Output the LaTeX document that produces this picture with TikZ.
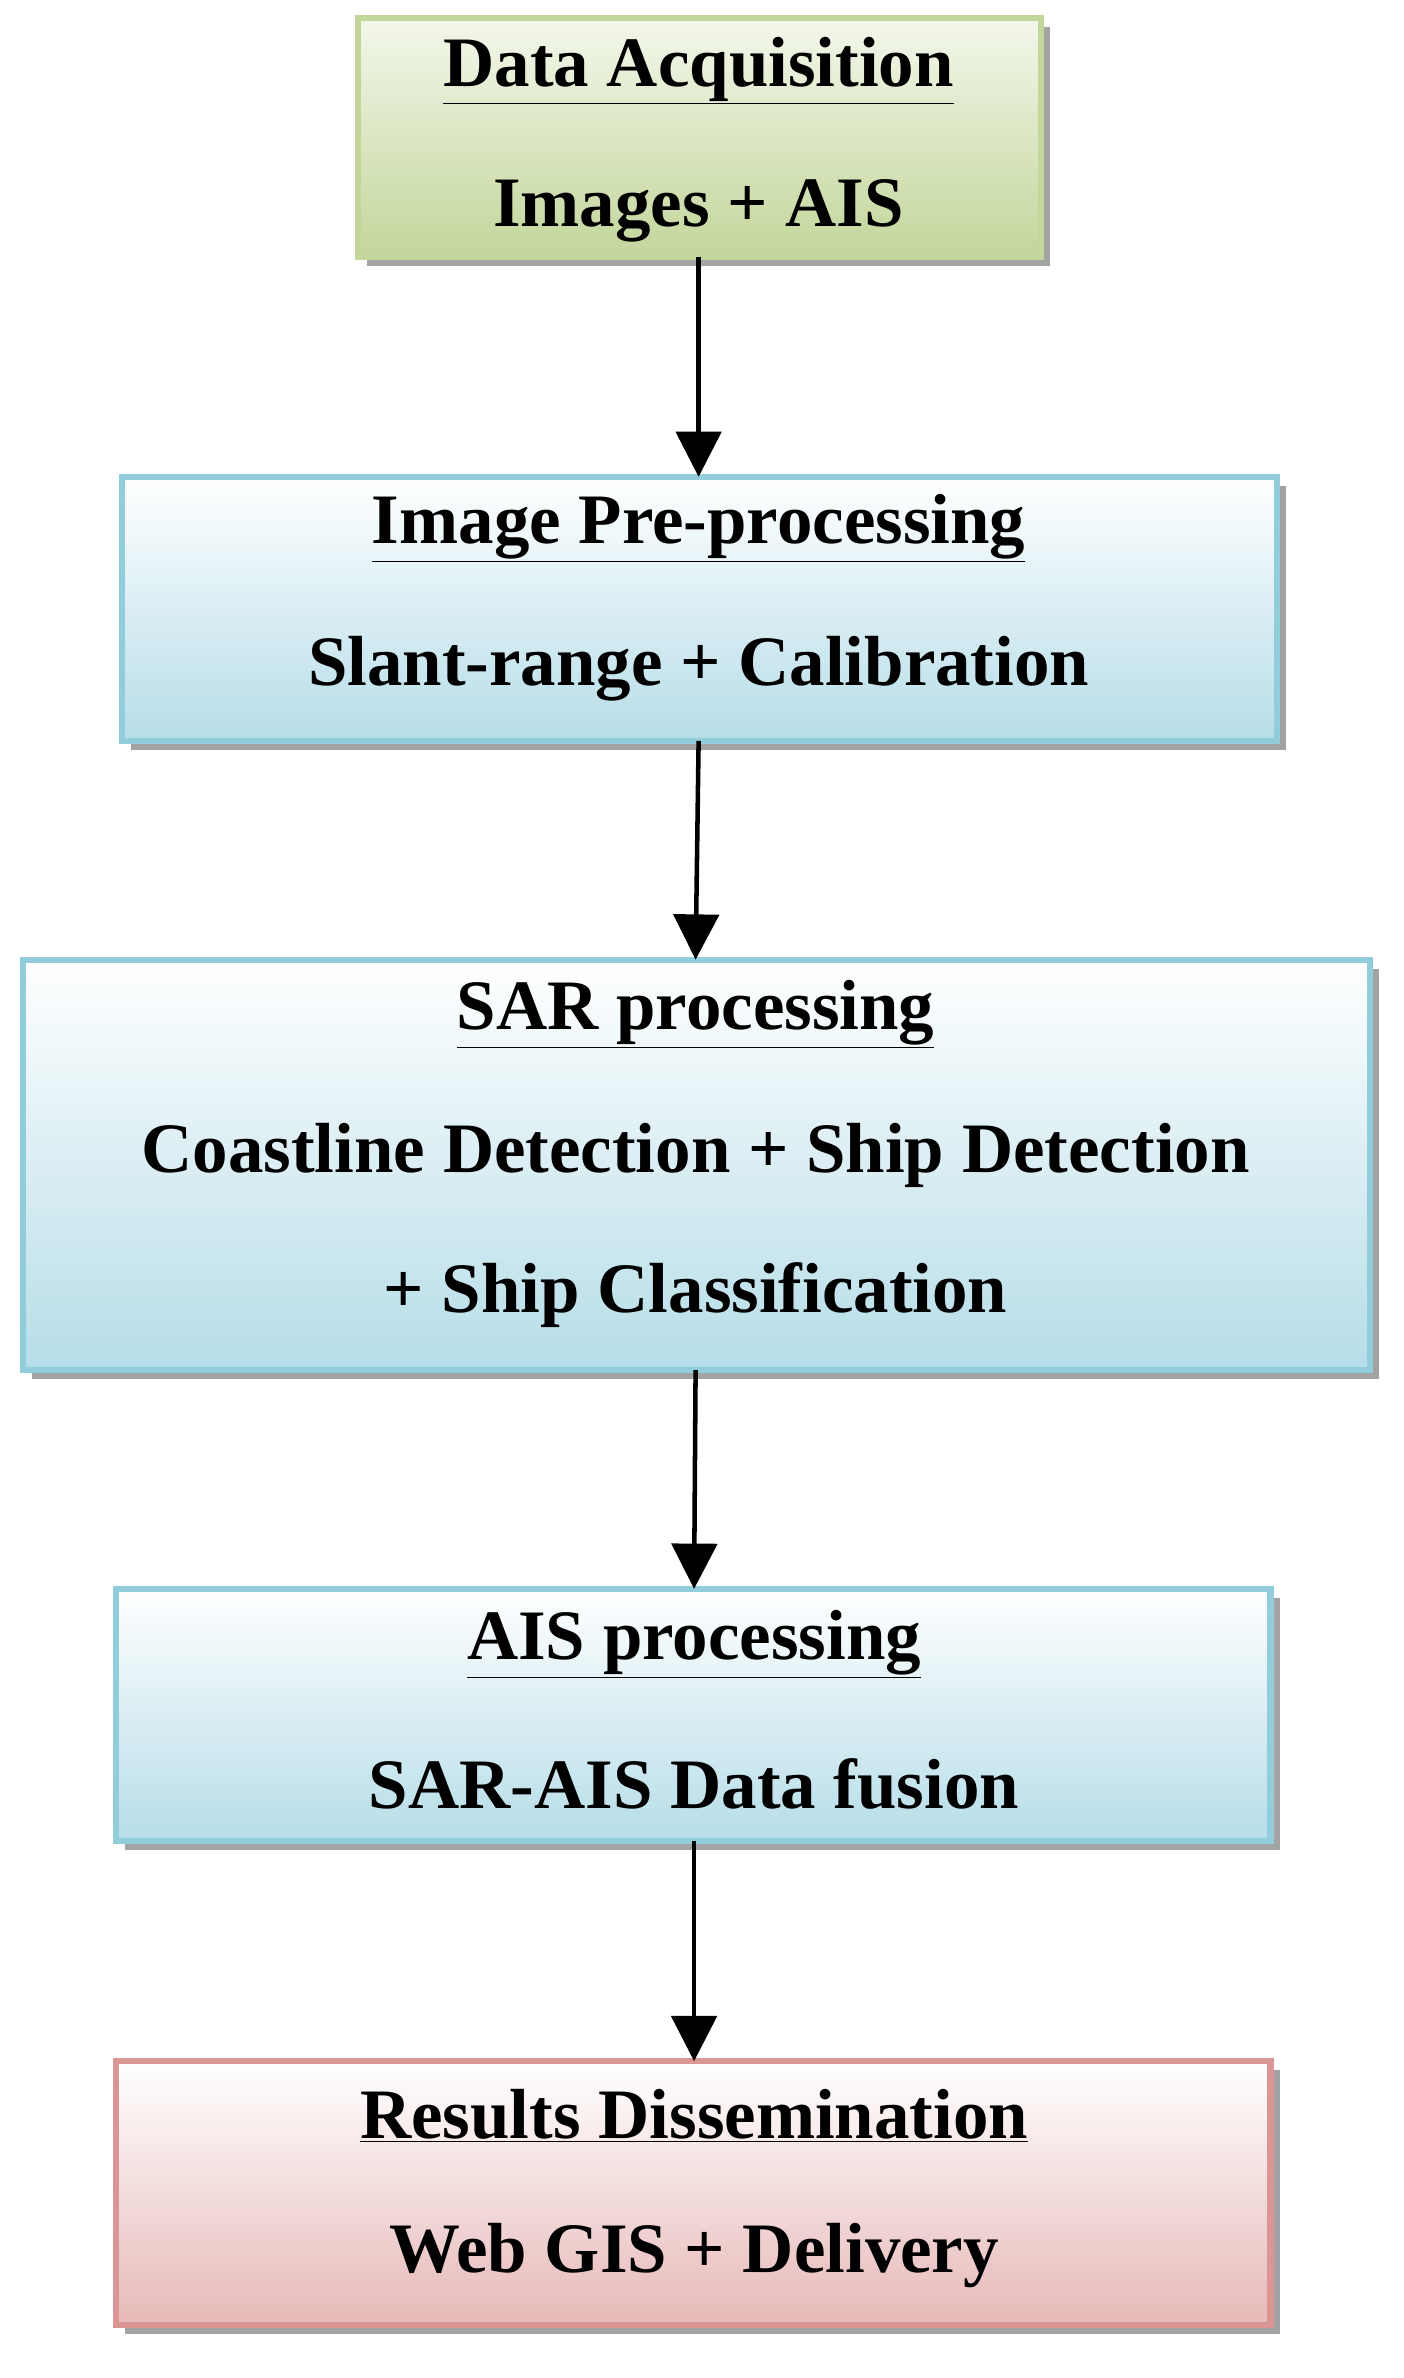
\documentclass[tikz,border=0pt]{standalone}
\usepackage{fontspec}
\setmainfont{Liberation Serif}
\usetikzlibrary{arrows.meta,shadows}
\definecolor{bluebd}{HTML}{92CDDC}
\definecolor{bluebt}{HTML}{B6DDE8}
\definecolor{greenbd}{HTML}{C3D69B}
\definecolor{greenbt}{HTML}{C3D69B}
\definecolor{redbd}{HTML}{D99694}
\definecolor{redbt}{HTML}{E6B9B8}
\newcommand{\ul}[1]{\underline{#1}}
\tikzset{
 box/.style={line width=4pt, drop shadow={shadow xshift=6pt,shadow yshift=-6pt,fill=black!45,opacity=0.8}},
 bluebox/.style={box, draw=bluebd, top color=white, bottom color=bluebt},
 greenbox/.style={box, draw=greenbd, top color=greenbt!20, bottom color=greenbt},
 redbox/.style={box, draw=redbd, top color=white, bottom color=redbt},
 txt/.style={font=\fontsize{47}{56}\selectfont\bfseries, inner sep=0pt},
 arr/.style={line width=3pt, -{Triangle[length=30pt,width=30pt]}}
}
\begin{document}
\begin{tikzpicture}[x=1pt,y=-1pt]
\useasboundingbox (0,0) rectangle (930,1576);
\fill[white] (0,0) rectangle (930,1576);
\draw[greenbox] (237,12) rectangle (690,170);
\draw[bluebox] (81,316) rectangle (846,491);
\draw[bluebox] (15,636) rectangle (908,908);
\draw[bluebox] (77,1053) rectangle (842,1220);
\draw[redbox] (77,1366) rectangle (842,1541);
\coordinate (b1) at (463,170); \coordinate (t2) at (463,316);
\coordinate (b2) at (463,491); \coordinate (t3) at (461,636);
\coordinate (b3) at (461,908); \coordinate (t4) at (460,1053);
\coordinate (b4) at (460,1220); \coordinate (t5) at (460,1366);
\node[txt] (n1a) at (463,47) {\ul{Data Acquisition}};
\node[txt] (n1b) at (463,140) {Images + AIS};
\node[txt] (n2a) at (463,350) {\ul{Image Pre-processing}};
\node[txt] (n2b) at (463,443) {Slant-range + Calibration};
\node[txt] (n3a) at (461,672) {\ul{SAR processing}};
\node[txt] (n3b) at (461,766) {Coastline Detection + Ship Detection};
\node[txt] (n3c) at (461,858) {+ Ship Classification};
\node[txt] (n4a) at (460,1090) {\ul{AIS processing}};
\node[txt] (n4b) at (460,1182) {SAR-AIS Data fusion};
\node[txt] (n5a) at (460,1402) {\ul{Results Dissemination}};
\node[txt] (n5b) at (460,1495) {Web GIS + Delivery};
\draw[arr] (b1) -- (t2);
\draw[arr] (b2) -- (t3);
\draw[arr] (b3) -- (t4);
\draw[arr] (b4) -- (t5);
\end{tikzpicture}
\end{document}
